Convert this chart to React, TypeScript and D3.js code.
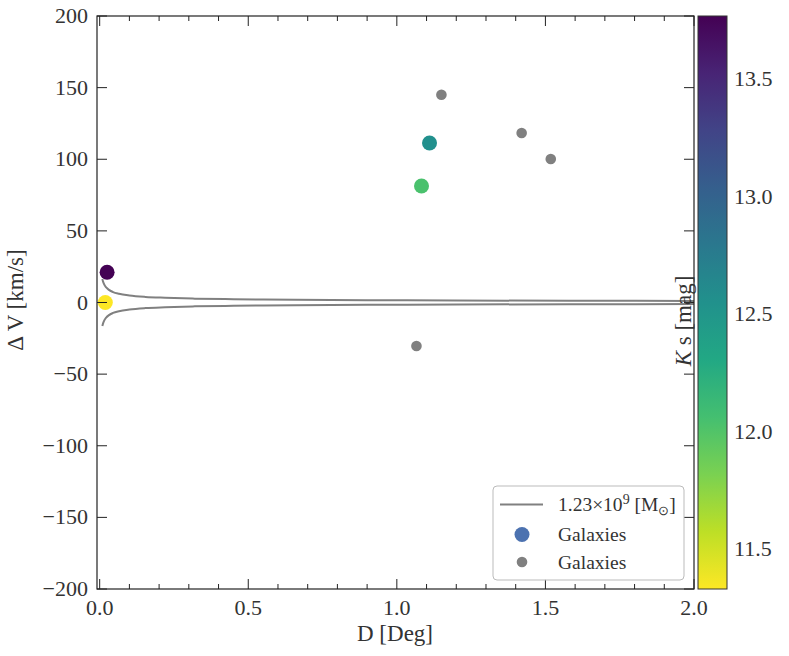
import * as d3 from "d3";

// colored galaxies (with Ks magnitude)
const galD = [0.025, 0.019, 1.11, 1.083];
const galDV = [21.1, 0, 111.3, 81.3];
const galKs = [13.77, 11.33, 12.55, 12.03];

// gray galaxies
const grayD = [1.15, 1.42, 1.518, 1.066];
const grayDV = [145, 118.3, 100.2, -30.4];

// escape velocity curve
const curveD = [0.009, 0.012, 0.016, 0.022, 0.03, 0.045, 0.065, 0.1, 0.154, 0.22, 0.32, 0.45, 0.66, 0.9, 1.2, 1.6, 2.0];
const curveDV = [16.4, 14.2, 12.3, 10.5, 9.0, 7.3, 6.1, 4.9, 3.9, 3.3, 2.7, 2.3, 1.9, 1.6, 1.4, 1.2, 1.1];

const xTicks = [0, 0.5, 1.0, 1.5, 2.0];
const yTicks = [-200, -150, -100, -50, 0, 50, 100, 150, 200];
const cbTicks = [11.5, 12.0, 12.5, 13.0, 13.5];

const W = 789;
const H = 656;
const left = 97;
const right = 694;
const top = 16;
const bottom = 589;
const cbLeft = 698;
const cbRight = 727;
const font = "Liberation Serif, Times New Roman, serif";

export default function App() {
  const x = d3.scaleLinear().domain([-0.009, 2.0]).range([left, right]);
  const y = d3.scaleLinear().domain([-200, 200]).range([bottom, top]);
  const cb = d3.scaleLinear().domain([11.33, 13.77]).range([bottom, top]);
  const color = (v: number) =>
    d3.interpolateViridis(1 - (v - 11.33) / (13.77 - 11.33));

  const minorX = d3.range(0, 21).map((i) => i / 10).filter((v) => !xTicks.includes(v));

  const curve = d3
    .line<number>()
    .curve(d3.curveMonotoneX)
    .x((d, i) => x(curveD[i]))
    .y((d) => y(d));

  const stops = d3.range(0, 11).map((i) => i / 10);
  const fmt = d3.format(".1f");

  return (
    <svg width={W} height={H} style={{ position: "absolute", left: 0, top: 0, fontFamily: font }}>
      <defs>
        <linearGradient id="cbg" x1="0" y1="1" x2="0" y2="0">
          {stops.map((t) => (
            <stop key={t} offset={t} stopColor={d3.interpolateViridis(1 - t)} />
          ))}
        </linearGradient>
        <clipPath id="plot">
          <rect x={left} y={top} width={right - left} height={bottom - top} />
        </clipPath>
      </defs>
      <rect width={W} height={H} fill="white" />

      <g clipPath="url(#plot)">
        <path d={curve(curveDV) || ""} fill="none" stroke="#808080" strokeWidth={2} />
        <path d={curve(curveDV.map((v) => -v)) || ""} fill="none" stroke="#808080" strokeWidth={2} />
        {galD.map((d, i) => (
          <circle key={"g" + i} cx={x(d)} cy={y(galDV[i])} r={7.5} fill={color(galKs[i])} />
        ))}
        {grayD.map((d, i) => (
          <circle key={"k" + i} cx={x(d)} cy={y(grayDV[i])} r={5.3} fill="#808080" />
        ))}
      </g>

      {/* ticks */}
      <g stroke="#222" strokeWidth={1}>
        {xTicks.map((t) => (
          <g key={"xt" + t}>
            <line x1={x(t)} x2={x(t)} y1={bottom} y2={bottom - 10} />
            <line x1={x(t)} x2={x(t)} y1={top} y2={top + 10} />
          </g>
        ))}
        {minorX.map((t) => (
          <g key={"xm" + t}>
            <line x1={x(t)} x2={x(t)} y1={bottom} y2={bottom - 5} />
            <line x1={x(t)} x2={x(t)} y1={top} y2={top + 5} />
          </g>
        ))}
        {yTicks.map((t) => (
          <g key={"yt" + t}>
            <line x1={left} x2={left + 10} y1={y(t)} y2={y(t)} />
            <line x1={right} x2={right - 10} y1={y(t)} y2={y(t)} />
          </g>
        ))}
      </g>
      <rect x={left} y={top} width={right - left} height={bottom - top} fill="none" stroke="#222" strokeWidth={1.2} />

      {/* tick labels */}
      <g fontSize={22} fill="#333">
        {xTicks.map((t) => (
          <text key={"xl" + t} x={x(t)} y={615} textAnchor="middle">
            {fmt(t)}
          </text>
        ))}
        {yTicks.map((t) => (
          <text key={"yl" + t} x={88} y={y(t) + 7} textAnchor="end">
            {t < 0 ? "\u2212" + Math.abs(t) : t}
          </text>
        ))}
      </g>

      <text x={395} y={641} textAnchor="middle" fontSize={23} fill="#333">
        D [Deg]
      </text>
      <text transform="translate(23,300) rotate(-90)" textAnchor="middle" fontSize={23} fill="#333">
        Δ V [km/s]
      </text>

      {/* legend */}
      <rect x={493} y={486} width={191} height={94} rx={4} fill="white" fillOpacity={0.85} stroke="#bbb" />
      <line x1={500} x2={543} y1={504.5} y2={504.5} stroke="#808080" strokeWidth={2} />
      <text x={558} y={511} fontSize={19.5} fill="#333">
        1.23×10
        <tspan dy={-7} fontSize={14}>9</tspan>
        <tspan dy={7}> [M</tspan>
        <tspan dy={4} fontSize={13}>⊙</tspan>
        <tspan dy={-4}>]</tspan>
      </text>
      <circle cx={522} cy={534.5} r={7.5} fill="#4c72b0" />
      <text x={558} y={541} fontSize={19.5} fill="#333">Galaxies</text>
      <circle cx={522} cy={562} r={5.3} fill="#808080" />
      <text x={558} y={569} fontSize={19.5} fill="#333">Galaxies</text>

      {/* colorbar */}
      <rect x={cbLeft} y={top} width={cbRight - cbLeft} height={bottom - top} fill="url(#cbg)" stroke="#333" strokeWidth={1} />
      <g fontSize={22} fill="#333">
        {cbTicks.map((t) => (
          <text key={"cb" + t} x={734} y={cb(t) + 7}>
            {fmt(t)}
          </text>
        ))}
      </g>
      <text transform="translate(691,321) rotate(-90)" textAnchor="middle" fontSize={23} fill="#333">
        <tspan fontStyle="italic">K</tspan> s [mag]
      </text>
    </svg>
  );
}
